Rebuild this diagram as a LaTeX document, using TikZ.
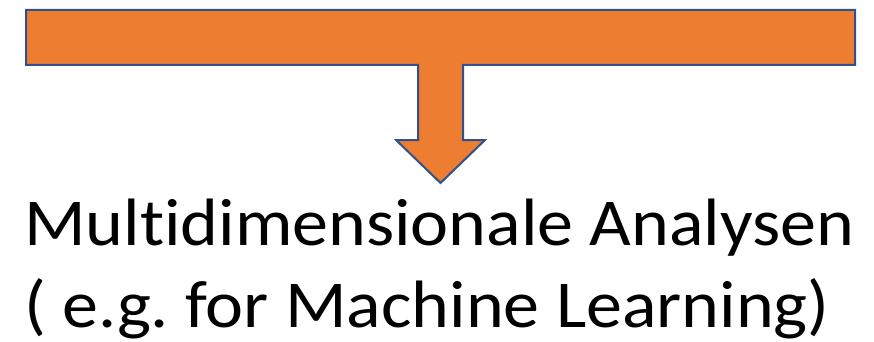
\documentclass[tikz,border=0pt]{standalone}
\usepackage{fontspec}
\setmainfont{Carlito}[Ligatures={NoCommon},FakeStretch=1.075]
\definecolor{offorange}{HTML}{ED7D31}
\definecolor{offblue}{HTML}{2F528F}
\frenchspacing
\begin{document}
\begin{tikzpicture}[x=1pt,y=-1pt,
  tarrow/.style={fill=offorange,draw=offblue,line width=2pt,line join=miter},
  bigtext/.style={inner sep=0pt,anchor=base west,font=\fontsize{67}{82}\selectfont}]
\useasboundingbox (0,0) rectangle (874,342);
\draw[tarrow] (26,10) -- (855,10) -- (855,65) -- (463,65) -- (463,140) -- (485,140)
  -- (440.5,183) -- (396,140) -- (418,140) -- (418,65) -- (26,65) -- cycle;
\node[bigtext] (l1) at (24,245) {Multidimensionale Analysen};
\node[bigtext] (l2) at (24,327) {( e.g. for Machine Learning)};
\end{tikzpicture}
\end{document}
